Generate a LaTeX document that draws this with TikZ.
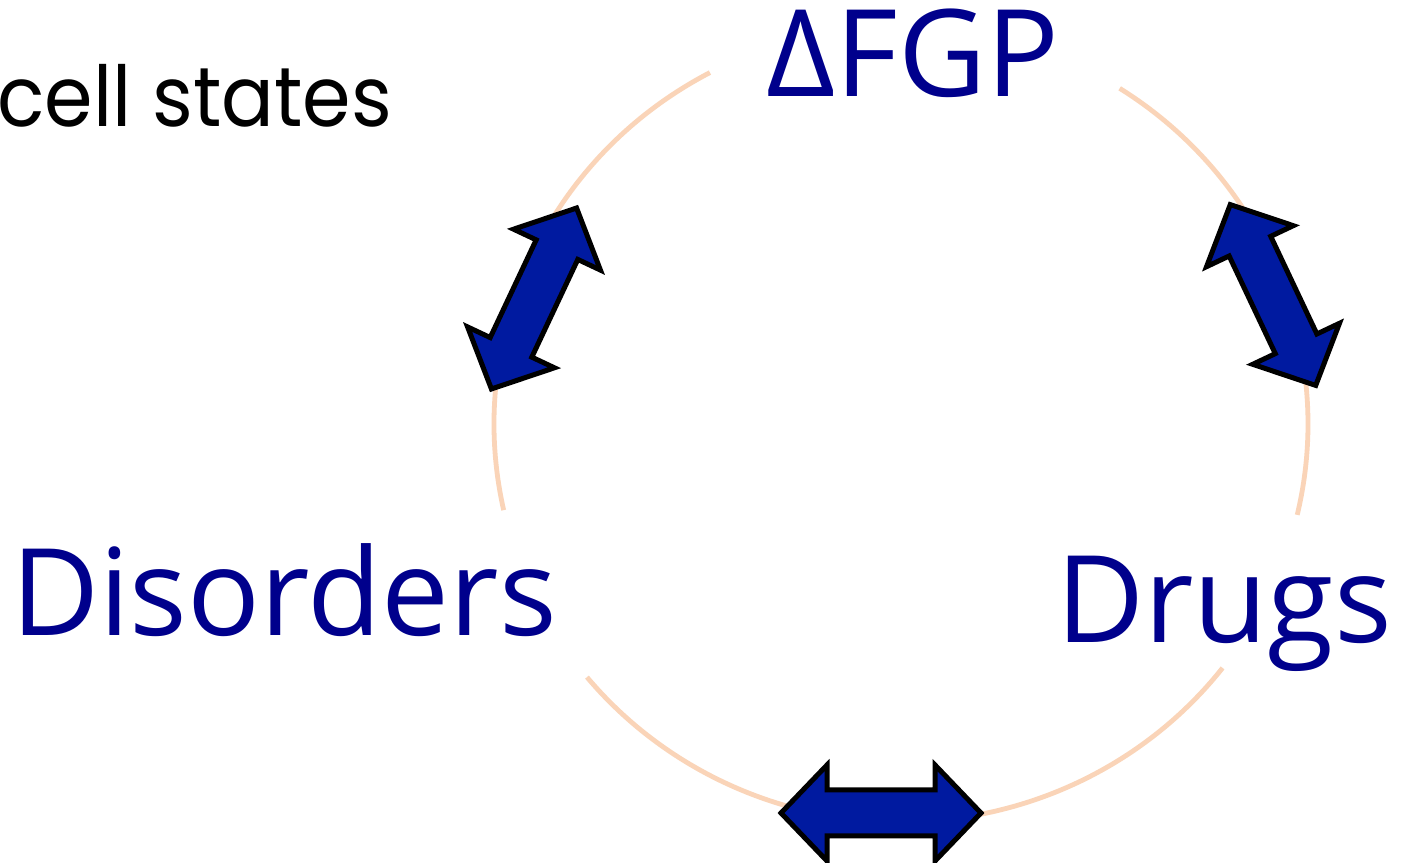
\documentclass[tikz,border=0pt]{standalone}
\usepackage{fontspec}
\setmainfont{Open Sans}
\newfontfamily\gothic{Poppins}
\definecolor{labelblue}{RGB}{0,0,140}
\definecolor{arrowblue}{RGB}{0,26,160}
\definecolor{ringpeach}{RGB}{250,212,184}

\begin{document}
\begin{tikzpicture}[x=0.5pt,y=0.5pt,
  ring/.style={draw=ringpeach, line width=2.4pt},
  label/.style={text=labelblue, font=\fontsize{60.5}{70}\selectfont, inner sep=0pt, anchor=base},
  pics/dblarrow/.style={code={
    \filldraw[fill=arrowblue, draw=black, line width=2.5pt, line join=miter]
      (-100,0) -- (-54,48) -- (-54,23) -- (54,23) -- (54,48) -- (100,0)
      -- (54,-48) -- (54,-23) -- (-54,-23) -- (-54,-48) -- cycle;
  }}]
  % page
  \fill[white] (0,0) rectangle (1410,863);
  \useasboundingbox (0,0) rectangle (1410,863);

  % heading fragment
  \node[anchor=base west, inner sep=0pt, xscale=0.93,
        font=\gothic\fontsize{42}{50}\selectfont] (states) at (-3,736) {cell states};

  % the ring, broken where the labels sit
  \coordinate (c) at (901,439);
  \draw[ring] (c) ++(118:407 and 398) arc[start angle=118, end angle=192.5, x radius=407, y radius=398];
  \draw[ring] (c) ++(219.5:407 and 398) arc[start angle=219.5, end angle=322.2, x radius=407, y radius=398];
  \draw[ring] (c) ++(-13.2:407 and 398) arc[start angle=-13.2, end angle=57.5, x radius=407, y radius=398];

  % labels
  \node[label] (fgp) at (913,766) {ΔFGP};
  \node[label] (dis) at (284,227) {Disorders};
  \node[label] (drg) at (1224,220) {Drugs};

  % two-way arrows between the labels
  \pic[rotate=64.8] (a1) at (534,564.5) {dblarrow};
  \pic[rotate=-64.7] (a2) at (1273,568) {dblarrow};
  \pic (a3) at (881,50) {dblarrow};
\end{tikzpicture}
\end{document}
